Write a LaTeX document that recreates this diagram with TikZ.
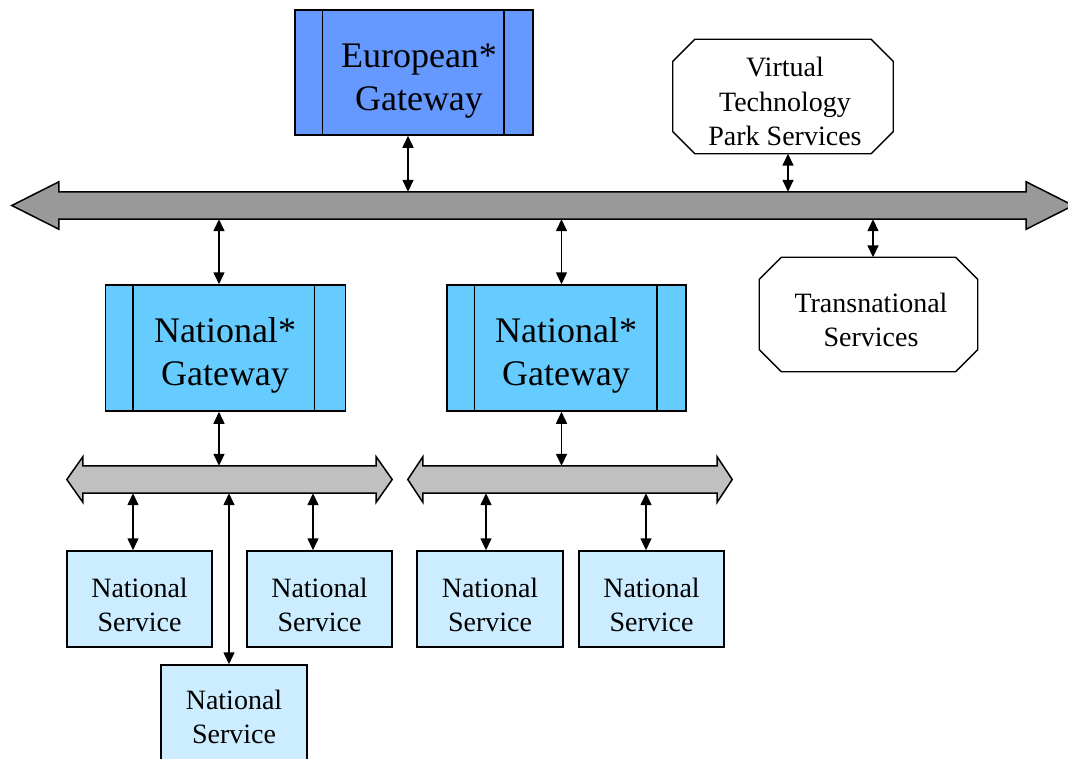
\documentclass[tikz,border=0pt]{standalone}
\usepackage{fontspec}
\setmainfont{Liberation Serif}
\usetikzlibrary{arrows.meta}
\definecolor{eurob}{HTML}{6699FF}
\definecolor{natb}{HTML}{66CCFF}
\definecolor{servb}{HTML}{CCECFF}
\definecolor{busdark}{HTML}{999999}
\definecolor{buslight}{HTML}{C0C0C0}
\newcommand{\octpath}[2]{%
  \draw[octline] ([xshift=#2]#1.north west) -- ([xshift=-#2]#1.north east)
   -- ([yshift=-#2]#1.north east) -- ([yshift=#2]#1.south east)
   -- ([xshift=-#2]#1.south east) -- ([xshift=#2]#1.south west)
   -- ([yshift=#2]#1.south west) -- ([yshift=-#2]#1.north west) -- cycle;}
\newcommand{\buspath}[4]{%
  \draw[busline, fill=#4] (#1.north west) -- (#1.north east)
   -- ([yshift=#2]#1.north east) -- ([xshift=#3]#1.east)
   -- ([yshift=-#2]#1.south east) -- (#1.south east)
   -- (#1.south west) -- ([yshift=-#2]#1.south west)
   -- ([xshift=-#3]#1.west) -- ([yshift=#2]#1.north west) -- cycle;}
\begin{document}
\begin{tikzpicture}[x=1pt,y=-1pt,
  box/.style={draw=black, line width=1.5pt, inner sep=0pt},
  gwbox/.style={box, minimum width=240pt, minimum height=126pt},
  servbox/.style={box, fill=servb, minimum width=145pt, minimum height=96pt},
  hidden/.style={inner sep=0pt},
  octline/.style={draw=black, line width=1.3pt, fill=white},
  busline/.style={draw=black, line width=1.5pt},
  bigtxt/.style={inner sep=0pt, align=center, font=\fontsize{36}{43}\selectfont},
  smalltxt/.style={inner sep=0pt, align=center, font=\fontsize{28}{34.5}\selectfont},
  conn/.style={line width=1.5pt, >={Triangle[length=12pt,width=11pt]}, <->},
  divider/.style={line width=1.5pt}]
\useasboundingbox (0,0) rectangle (1068,758);

% main bus
\node[hidden, minimum width=967pt, minimum height=27pt] (bus) at (542.5,205.5) {};
\buspath{bus}{10pt}{47pt}{busdark}

% European gateway
\node[box, fill=eurob, minimum width=238pt, minimum height=125pt] (eg) at (414,72.5) {};
\draw[divider] ([xshift=28pt]eg.north west) -- ([xshift=28pt]eg.south west);
\draw[divider] ([xshift=-30pt]eg.north east) -- ([xshift=-30pt]eg.south east);
\node[bigtxt] (egt) at (419,81) {European*\\Gateway};

% Virtual Technology Park Services
\node[hidden, minimum width=220pt, minimum height=114pt] (vtp) at (783,96.5) {};
\octpath{vtp}{22pt}
\node[smalltxt] (vtpt) at (785,101.5) {Virtual\\Technology\\Park Services};

% Transnational Services
\node[hidden, minimum width=218pt, minimum height=114pt] (tns) at (868.5,314.5) {};
\octpath{tns}{22pt}
\node[smalltxt] (tnst) at (871,320) {Transnational\\Services};

% National gateways
\node[gwbox, fill=natb, minimum width=240pt] (ng1) at (225.5,348) {};
\draw[divider] ([xshift=28pt]ng1.north west) -- ([xshift=28pt]ng1.south west);
\draw[divider] ([xshift=-32pt]ng1.north east) -- ([xshift=-32pt]ng1.south east);
\node[bigtxt] (ng1t) at (225,355) {National*\\Gateway};

\node[gwbox, fill=natb, minimum width=239pt] (ng2) at (566.5,348) {};
\draw[divider] ([xshift=28pt]ng2.north west) -- ([xshift=28pt]ng2.south west);
\draw[divider] ([xshift=-30pt]ng2.north east) -- ([xshift=-30pt]ng2.south east);
\node[bigtxt] (ng2t) at (566,355) {National*\\Gateway};

% small buses
\node[hidden, minimum width=293pt, minimum height=27pt] (bus1) at (229.5,479.5) {};
\buspath{bus1}{9pt}{16pt}{buslight}
\node[hidden, minimum width=294pt, minimum height=27pt] (bus2) at (570,479.5) {};
\buspath{bus2}{9pt}{15pt}{buslight}

% national services
\node[servbox] (ns1) at (139.5,599) {};
\node[smalltxt] (ns1t) at (139.5,605) {National\\Service};
\node[servbox] (ns2) at (319.5,599) {};
\node[smalltxt] (ns2t) at (319.5,605) {National\\Service};
\node[servbox, minimum width=146pt, minimum height=100pt] (ns3) at (234,715) {};
\node[smalltxt] (ns3t) at (234,717) {National\\Service};
\node[servbox, minimum width=146pt] (ns4) at (490,599) {};
\node[smalltxt] (ns4t) at (490,605) {National\\Service};
\node[servbox] (ns5) at (651.5,599) {};
\node[smalltxt] (ns5t) at (651.5,605) {National\\Service};

% connectors
\draw[conn] ([xshift=-6pt]eg.south) -- ([xshift=-6pt]eg.south |- bus.north);
\draw[conn] ([xshift=5pt]vtp.south) -- ([xshift=5pt]vtp.south |- bus.north);
\draw[conn] ([xshift=4.5pt]tns.north) -- ([xshift=4.5pt]tns.north |- bus.south);
\draw[conn] ([xshift=-6.5pt]ng1.north) -- ([xshift=-6.5pt]ng1.north |- bus.south);
\draw[conn] ([xshift=-5pt]ng2.north) -- ([xshift=-5pt]ng2.north |- bus.south);
\draw[conn] ([xshift=-6.5pt]ng1.south) -- ([xshift=-6.5pt]ng1.south |- bus1.north);
\draw[conn] ([xshift=-5pt]ng2.south) -- ([xshift=-5pt]ng2.south |- bus2.north);
\draw[conn] ([xshift=-6.5pt]ns1.north) -- ([xshift=-6.5pt]ns1.north |- bus1.south);
\draw[conn] ([xshift=-6.5pt]ns2.north) -- ([xshift=-6.5pt]ns2.north |- bus1.south);
\draw[conn] ([xshift=-5pt]ns3.north) -- ([xshift=-5pt]ns3.north |- bus1.south);
\draw[conn] ([xshift=-4pt]ns4.north) -- ([xshift=-4pt]ns4.north |- bus2.south);
\draw[conn] ([xshift=-5.5pt]ns5.north) -- ([xshift=-5.5pt]ns5.north |- bus2.south);
\end{tikzpicture}
\end{document}
